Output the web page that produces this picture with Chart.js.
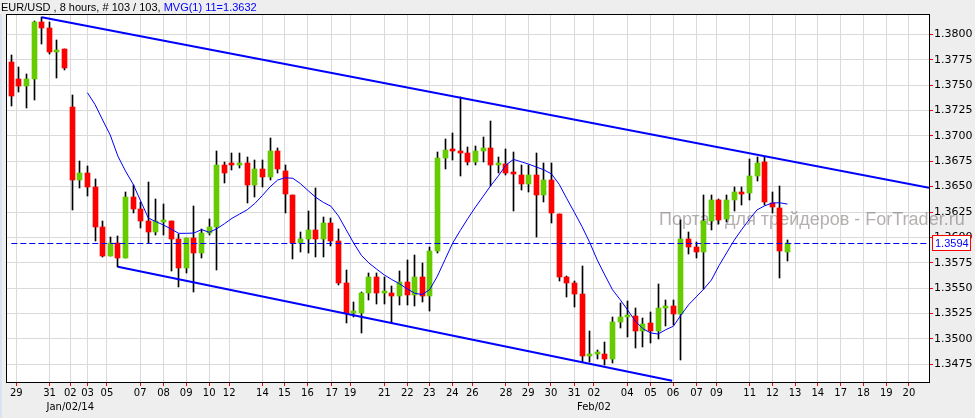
<!DOCTYPE html>
<html>
<head>
<meta charset="utf-8">
<title>EUR/USD 8 hours</title>
<script src="https://cdn.jsdelivr.net/npm/chart.js@4.4.1/dist/chart.umd.min.js"></script>
<style>
  html, body { margin: 0; padding: 0; background: #eeeeee; }
  #wrap { position: relative; width: 975px; height: 418px; }
</style>
</head>
<body>
<div id="wrap"><canvas id="myChart" width="975" height="418"></canvas></div>
<script>
// EUR/USD, 8 hour candles (103 bars)
const opens = [
  1.3773, 1.3756, 1.3749, 1.37563, 1.3812, 1.3806, 1.3783, 1.3786, 1.3728, 1.36565,
  1.36637, 1.36496, 1.36102, 1.35819, 1.35944, 1.35799, 1.36397, 1.36279, 1.36161, 1.36056,
  1.36154, 1.36161, 1.35984, 1.35701, 1.35997, 1.35843, 1.36046, 1.36105, 1.36713, 1.36713,
  1.3671, 1.36732, 1.36519, 1.36673, 1.36591, 1.36851, 1.36654, 1.36417, 1.35941, 1.35984,
  1.36075, 1.35984, 1.36138, 1.35964, 1.3555, 1.35252, 1.35258, 1.35455, 1.35612, 1.35449,
  1.35455, 1.35422, 1.35563, 1.35432, 1.35612, 1.35422, 1.35868, 1.36785, 1.36853, 1.36851,
  1.36834, 1.36745, 1.36851, 1.36883, 1.36716, 1.36722, 1.36624, 1.36614, 1.36525, 1.36614,
  1.3642, 1.36565, 1.3623, 1.35609, 1.3555, 1.35442, 1.34831, 1.34848, 1.34851, 1.34799,
  1.35169, 1.35218, 1.35228, 1.3508, 1.35153, 1.3508, 1.35307, 1.35327, 1.35242, 1.35984,
  1.35908, 1.35859, 1.36164, 1.36368, 1.36178, 1.36368, 1.3645, 1.36434, 1.36607, 1.36739,
  1.36335, 1.36292, 1.35859
];
const highs = [
  1.3780, 1.37675, 1.3761, 1.3813, 1.38167, 1.3812, 1.3794, 1.3786, 1.3740, 1.36752,
  1.36706, 1.36575, 1.36164, 1.36, 1.36013, 1.3645, 1.36513, 1.36351, 1.36545, 1.36378,
  1.36328, 1.36161, 1.3603, 1.35997, 1.36309, 1.36082, 1.36181, 1.36851, 1.36745, 1.36828,
  1.36828, 1.36794, 1.36762, 1.36762, 1.36979, 1.36883, 1.36713, 1.36417, 1.36053, 1.36259,
  1.36483, 1.36203, 1.36188, 1.36082, 1.35678, 1.35366, 1.35459, 1.35652, 1.35646, 1.35612,
  1.35521, 1.35668, 1.35777, 1.35826, 1.3575, 1.35908, 1.36844, 1.36966, 1.37025, 1.37379,
  1.36893, 1.369, 1.36991, 1.37146, 1.36794, 1.3687, 1.36838, 1.36713, 1.36713, 1.36834,
  1.36735, 1.36735, 1.3623, 1.35622, 1.3557, 1.35718, 1.3508, 1.3489, 1.34972, 1.35218,
  1.3535, 1.35376, 1.35301, 1.35203, 1.35268, 1.3554, 1.35383, 1.35383, 1.36171, 1.36056,
  1.35957, 1.36417, 1.36417, 1.36375, 1.36417, 1.36499, 1.36499, 1.36769, 1.36794, 1.36788,
  1.3645, 1.36506, 1.35974
];
const lows = [
  1.3729, 1.37435, 1.3727, 1.37353, 1.3790, 1.3781, 1.3757, 1.3765, 1.3627, 1.36489,
  1.3641, 1.35964, 1.35809, 1.35816, 1.35711, 1.35797, 1.36237, 1.36089, 1.35947, 1.36023,
  1.36023, 1.35668, 1.35514, 1.35646, 1.35459, 1.35794, 1.36023, 1.35678, 1.36538, 1.36663,
  1.36683, 1.36341, 1.364, 1.36499, 1.36565, 1.36631, 1.36243, 1.3579, 1.35859, 1.35843,
  1.35809, 1.35809, 1.35915, 1.35531, 1.35153, 1.35218, 1.35055, 1.35383, 1.35343, 1.35343,
  1.35153, 1.35334, 1.35334, 1.35324, 1.35366, 1.35277, 1.35849, 1.36673, 1.36762, 1.36607,
  1.36713, 1.36713, 1.36745, 1.36509, 1.36631, 1.36617, 1.36262, 1.36466, 1.36444, 1.36006,
  1.36351, 1.36138, 1.35573, 1.35409, 1.35311, 1.34775, 1.34775, 1.34799, 1.34743, 1.34759,
  1.35104, 1.35015, 1.34907, 1.34923, 1.34962, 1.34996, 1.3513, 1.35137, 1.34792, 1.35833,
  1.35799, 1.35488, 1.36072, 1.36128, 1.36151, 1.36259, 1.36319, 1.36368, 1.36555, 1.36319,
  1.36237, 1.35597, 1.3577
];
const closes = [
  1.3739, 1.3749, 1.3756, 1.3812, 1.38065, 1.3783, 1.3785, 1.3767, 1.3657, 1.36637,
  1.36499, 1.36105, 1.35816, 1.35944, 1.35799, 1.36397, 1.36282, 1.36164, 1.36056, 1.36161,
  1.36161, 1.35987, 1.35701, 1.35997, 1.35843, 1.36046, 1.36102, 1.36713, 1.36637, 1.3671,
  1.36732, 1.36519, 1.36673, 1.36591, 1.36851, 1.36673, 1.36424, 1.35941, 1.35984, 1.36075,
  1.35984, 1.36138, 1.35967, 1.35553, 1.35252, 1.35252, 1.35449, 1.35612, 1.35455, 1.35455,
  1.35422, 1.35563, 1.35432, 1.35612, 1.35422, 1.35865, 1.36779, 1.3686, 1.36851, 1.36834,
  1.36745, 1.36851, 1.36883, 1.36716, 1.3672, 1.36631, 1.3662, 1.36525, 1.36614, 1.3642,
  1.36565, 1.36237, 1.35612, 1.35553, 1.35442, 1.34831, 1.34834, 1.34851, 1.34799, 1.35169,
  1.35218, 1.35235, 1.3508, 1.35146, 1.3508, 1.35307, 1.35327, 1.35242, 1.35984, 1.35908,
  1.35859, 1.36164, 1.36368, 1.36171, 1.36368, 1.3645, 1.36427, 1.36604, 1.36729, 1.36351,
  1.36302, 1.35868, 1.35941
];

// MVG(1) 11 line, as drawn (starts at bar 11)
const mvgStart = 10;
const mvg11 = [
  1.37425, 1.37309, 1.37156, 1.37008, 1.36801, 1.36654, 1.36525, 1.36358, 1.36191, 1.36155,
  1.36122, 1.36082, 1.3604, 1.3604, 1.36043, 1.36077, 1.3605, 1.36085, 1.36134, 1.36188,
  1.3623, 1.36272, 1.36334, 1.36413, 1.36498, 1.36565, 1.36588, 1.36582, 1.36529, 1.36461,
  1.36395, 1.36345, 1.36307, 1.3621, 1.36076, 1.35943, 1.35824, 1.35747, 1.35688, 1.35631,
  1.35585, 1.35544, 1.35495, 1.3545, 1.35437, 1.35488, 1.35619, 1.35782, 1.35944, 1.36068,
  1.36187, 1.36299, 1.36404, 1.36509, 1.36605, 1.36713, 1.36768, 1.36745, 1.36721, 1.36693,
  1.36665, 1.36624, 1.36523, 1.36382, 1.36246, 1.36106, 1.35952, 1.35778, 1.35629, 1.35485,
  1.35388, 1.35284, 1.35176, 1.35101, 1.3506, 1.35048, 1.35091, 1.35125, 1.35235, 1.35336,
  1.35414, 1.35491, 1.3558, 1.35722, 1.35848, 1.35972, 1.36079, 1.36179, 1.36271, 1.36311,
  1.36339, 1.36341, 1.36328
];

// channel lines [bar, price]
const upperTrend = [[4, 1.38167], [120.6, 1.36489]];
const lowerTrend = [[14, 1.35711], [86.84, 1.34588]];
const lastPrice = 1.3594;

// date axis (bar positions) and price axis
const tickPos = [0.66, 5.03, 7.75, 10.02, 12.57, 16.94, 20.0, 22.98, 26.0, 28.63, 33.0, 35.89, 38.91,
  42.11, 44.52, 49.02, 52.04, 54.93, 57.95, 60.58, 65.0, 67.93, 70.91, 73.97, 76.56, 80.93,
  84.0, 86.97, 90.05, 92.67, 97.04, 100.03, 103.0, 105.98, 109.0, 111.98, 114.99, 117.96];
const tickText = ['29', '31', ['02', 'Jan/02/14'], '03', '05', '07', '08', '09', '10', '12', '14', '15', '16',
  '17', '19', '21', '22', '23', '24', '26', '28', '29', '30', '31', ['02', 'Feb/02'], '04',
  '05', '06', '07', '09', '11', '12', '13', '14', '17', '18', '19', '20'];
const priceTicks = [1.3475, 1.35, 1.3525, 1.355, 1.3575, 1.36, 1.3625, 1.365, 1.3675, 1.37, 1.3725, 1.375, 1.3775, 1.38];

const xMin = -0.7, xMax = 120.6;
const yMin = 1.34576, yMax = 1.382;

// build datasets
const wickData = closes.map((c, i) => ({ x: i, y: [lows[i], highs[i]] }));
const bodyData = closes.map((c, i) => ({ x: i, y: [opens[i], c] }));
const bodyColors = closes.map((c, i) => c >= opens[i] ? '#66cc00' : '#ff0000');
const mvgData = mvg11.map((v, k) => ({ x: mvgStart + k, y: v }));
const toPts = arr => arr.map(p => ({ x: p[0], y: p[1] }));

// background: grey window, white plot
const bgPlugin = {
  id: 'bg',
  beforeDraw: (chart) => {
    const { ctx, chartArea: a } = chart;
    ctx.save();
    ctx.fillStyle = '#eeeeee';
    ctx.fillRect(0, 0, chart.width, chart.height);
    ctx.fillStyle = '#d8e4f3';
    ctx.fillRect(0, a.top, 2, chart.height - a.top);
    ctx.fillStyle = '#ffffff';
    ctx.fillRect(a.left, a.top, a.right - a.left, a.bottom - a.top);
    ctx.restore();
  },
  // watermark sits under the candles
  beforeDatasetsDraw: (chart) => {
    const { ctx } = chart;
    ctx.save();
    ctx.font = '18px "Liberation Sans"';
    ctx.fillStyle = 'rgba(120, 110, 110, 0.55)';
    ctx.textBaseline = 'alphabetic';
    ctx.fillText('Портал для трейдеров - ForTrader.ru', 659, 225);
    ctx.restore();
  }
};

// snap candle bars and the price line to whole pixels so they stay crisp
const snapPlugin = {
  id: 'snap',
  afterDatasetsUpdate: (chart) => {
    chart.data.datasets.forEach((ds, i) => {
      const els = chart.getDatasetMeta(i).data;
      if (!ds.type) {
        els.forEach(el => {
          el.x = Math.floor(el.x) + 0.5;
          el.y = Math.round(el.y);
          el.base = Math.round(el.base);
        });
      } else if (ds.snapY) {
        els.forEach(el => { el.y = Math.floor(el.y) + 0.5; });
      }
    });
  }
};

// frame, header and last price box
const frontPlugin = {
  id: 'front',
  afterDraw: (chart) => {
    const { ctx, chartArea: a } = chart;
    ctx.save();
    ctx.strokeStyle = '#000';
    ctx.lineWidth = 1;
    ctx.strokeRect(a.left + 0.5, a.top + 0.5, a.right - a.left, a.bottom - a.top);

    ctx.font = '11px "Liberation Sans"';
    ctx.textBaseline = 'alphabetic';
    const head = 'EUR/USD , 8 hours, # 103 / 103, ';
    ctx.fillStyle = '#000';
    ctx.fillText(head, 1, 10.5);
    ctx.fillStyle = '#0000ff';
    ctx.fillText('MVG(1) 11=1.3632', 1 + ctx.measureText(head).width, 10.5);

    const y = Math.round(chart.scales.y.getPixelForValue(lastPrice));
    ctx.fillStyle = '#fff';
    ctx.fillRect(a.right + 3, y - 8, 39, 16);
    ctx.strokeStyle = '#ff0000';
    ctx.strokeRect(a.right + 3.5, y - 7.5, 38, 15);
    ctx.fillStyle = '#0000ff';
    ctx.textBaseline = 'middle';
    ctx.fillText(lastPrice.toFixed(4), a.right + 6, y + 0.5);
    ctx.restore();
  }
};

const ctx = document.getElementById('myChart');

new Chart(ctx, {
  type: 'bar',
  data: {
    datasets: [
      { type: 'line', data: [{ x: 0, y: lastPrice }, { x: xMax, y: lastPrice }], borderColor: '#0000ff',
        borderWidth: 1, borderDash: [6, 3], pointRadius: 0, order: 0, snapY: true },
      { type: 'line', data: toPts(upperTrend), borderColor: '#0000ff', borderWidth: 2, pointRadius: 0, order: 1 },
      { type: 'line', data: toPts(lowerTrend), borderColor: '#0000ff', borderWidth: 2, pointRadius: 0, order: 1 },
      { type: 'line', data: mvgData, borderColor: '#0000ff', borderWidth: 1, pointRadius: 0, tension: 0, order: 2 },
      { data: bodyData, backgroundColor: bodyColors, barThickness: 5, minBarLength: 2, grouped: false, order: 3 },
      { data: wickData, backgroundColor: '#000000', barThickness: 1, grouped: false, order: 4 }
    ]
  },
  options: {
    responsive: false,
    animation: false,
    devicePixelRatio: 1,
    layout: { padding: { left: 6, top: 14, right: 0, bottom: 0 } },
    plugins: { legend: { display: false }, tooltip: { enabled: false } },
    scales: {
      x: {
        type: 'linear', min: xMin, max: xMax, offset: false,
        grid: { offset: false, color: '#dadada', tickColor: '#ff0000', tickLength: 4 },
        border: { color: '#000', width: 1 },
        afterBuildTicks: (s) => { s.ticks = tickPos.map(v => ({ value: v })); },
        afterFit: (s) => { s.height = 36; },
        ticks: {
          autoSkip: false, maxRotation: 0, minRotation: 0, padding: 1, color: '#000',
          font: { family: 'DejaVu Sans', size: 10, lineHeight: 1.35 },
          callback: (v, i) => tickText[i]
        }
      },
      y: {
        type: 'linear', position: 'right', min: yMin, max: yMax,
        grid: { color: '#dadada', tickColor: '#ff0000', tickLength: 4 },
        border: { color: '#000', width: 1 },
        afterBuildTicks: (s) => { s.ticks = priceTicks.map(v => ({ value: v })); },
        afterFit: (s) => { s.width = 46; },
        ticks: {
          padding: 1, color: '#000',
          font: { family: 'DejaVu Sans', size: 11 },
          callback: (v) => v.toFixed(4)
        }
      }
    }
  },
  plugins: [bgPlugin, snapPlugin, frontPlugin]
});
</script>
</body>
</html>
